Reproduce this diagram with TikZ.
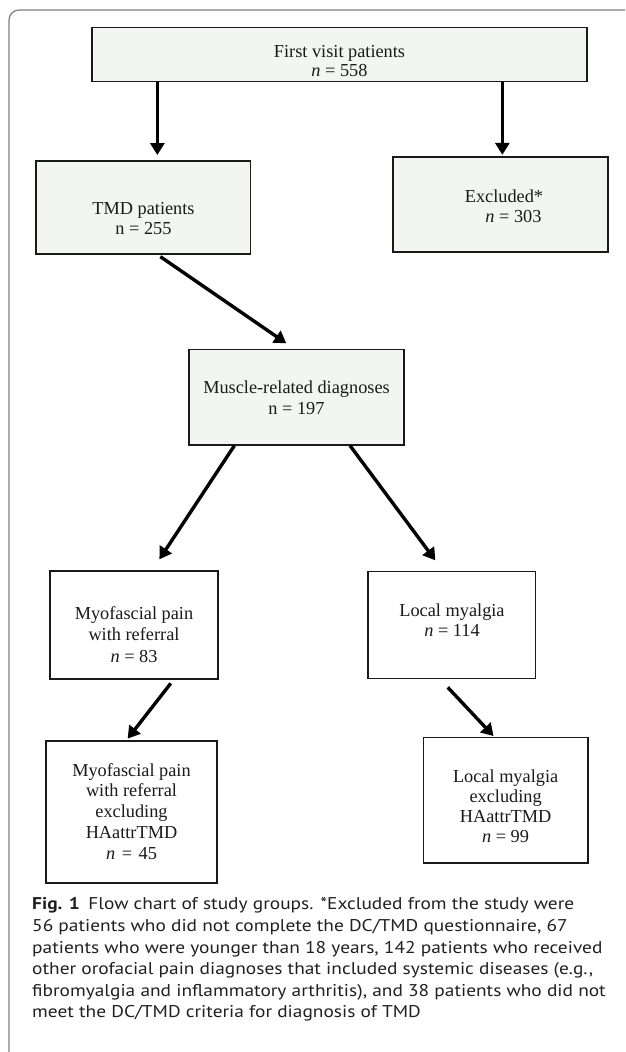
\documentclass[tikz,border=0pt]{standalone}
\usepackage{fontspec}
\setmainfont{Liberation Serif}
\newfontfamily\capfont[FakeStretch=1.14]{PT Sans}
\usetikzlibrary{arrows.meta}
\definecolor{boxgray}{HTML}{F3F5F3}
\definecolor{framegray}{HTML}{808080}
\definecolor{ink}{HTML}{1A1A1A}
\definecolor{capink}{HTML}{231F20}
\tikzset{
  box/.style={draw=ink, line width=1.3pt, inner sep=0pt},
  graybox/.style={box, fill=boxgray},
  whitebox/.style={box, fill=white},
  txt/.style={align=center, inner sep=0pt, text=ink, font=\fontsize{18.3}{#1}\selectfont},
  arr/.style={line width=3.4pt, draw=black, -{Triangle[length=12pt,width=14pt]}},
}
\begin{document}
\begin{tikzpicture}[x=1pt,y=-1pt]
\useasboundingbox (0,0) rectangle (625,1052);
\fill[white] (0,0) rectangle (625,1052);
% outer frame
\draw[framegray, line width=1.2pt, rounded corners=10pt] (9,1052) -- (9,10) -- (625,10);

% boxes
\node[graybox, minimum width=495pt, minimum height=54.4pt] (first) at (339.5,54.5) {};
\node[graybox, minimum width=214.5pt, minimum height=93pt] (tmd) at (143.25,207.5) {};
\node[graybox, minimum width=215pt, minimum height=95pt] (excl) at (500.5,204.5) {};
\node[graybox, minimum width=215pt, minimum height=95.5pt] (muscle) at (296.5,397.25) {};
\node[whitebox, minimum width=168pt, minimum height=108pt] (myo) at (134,625) {};
\node[whitebox, minimum width=167.3pt, minimum height=107pt] (local) at (451.65,625) {};
\node[whitebox, minimum width=171pt, minimum height=142pt] (myox) at (131.5,812) {};
\node[whitebox, minimum width=164.7pt, minimum height=125.7pt] (localx) at (505.65,800.15) {};

% texts
\node[txt=18.5] (firstT) at (339.5,61) {First visit patients\\\textit{n} = 558};
\node[txt=20] (tmdT) at (143.5,218.75) {TMD patients\\n = 255};
\node[txt=20] (exclT) at (504,206.5) {Excluded*\\\hspace*{19pt}\textit{n} = 303};
\node[txt=21] (muscleT) at (296.5,397.25) {Muscle-related diagnoses\\n = 197};
\node[txt=21.5] (myoT) at (134,634.25) {Myofascial pain\\with referral\\\textit{n} = 83};
\node[txt=20.7] (localT) at (452,620) {Local myalgia\\\textit{n} = 114};
\node[txt=20.75] (myoxT) at (131.5,811.25) {Myofascial pain\\with referral\\excluding\\HAattrTMD\\\textit{n}\hspace{2pt} = \hspace{2pt}45};
\node[txt=20.3] (localxT) at (505.6,806.25) {Local myalgia\\excluding\\HAattrTMD\\\textit{n} = 99};

% arrows
\draw[arr] ([xshift=66pt]first.south west) -- ([xshift=122pt,yshift=5.3pt]tmd.north west);
\draw[arr] ([xshift=411pt]first.south west) -- ([xshift=110pt,yshift=1.5pt]excl.north west);
\draw[arr] ([xshift=125pt,yshift=-2pt]tmd.south west) -- ([xshift=98pt,yshift=5.5pt]muscle.north west);
\draw[arr] ([xshift=46pt]muscle.south west) -- ([xshift=110pt,yshift=11pt]myo.north west);
\draw[arr] ([xshift=161.7pt]muscle.south west) -- ([xshift=68pt,yshift=10.5pt]local.north west);
\draw[arr] ([xshift=121.4pt,yshift=-3.7pt]myo.south west) -- ([xshift=82.3pt,yshift=1.7pt]myox.north west);
\draw[arr] ([xshift=80.4pt,yshift=-8.2pt]local.south west) -- ([xshift=70.9pt,yshift=0.6pt]localx.north west);

% caption
\node[anchor=north west, inner sep=0pt, align=left, text=capink,
      font=\capfont\fontsize{17}{21.6}\selectfont] (caption) at (32,897.5)
{\textbf{Fig. 1}\hspace{0.5em}Flow chart of study groups. *Excluded from the study were\\
56 patients who did not complete the DC/TMD questionnaire, 67\\
patients who were younger than 18 years, 142 patients who received\\
other orofacial pain diagnoses that included systemic diseases (e.g.,\\
fibromyalgia and inflammatory arthritis), and 38 patients who did not\\
meet the DC/TMD criteria for diagnosis of TMD};
\end{tikzpicture}
\end{document}
